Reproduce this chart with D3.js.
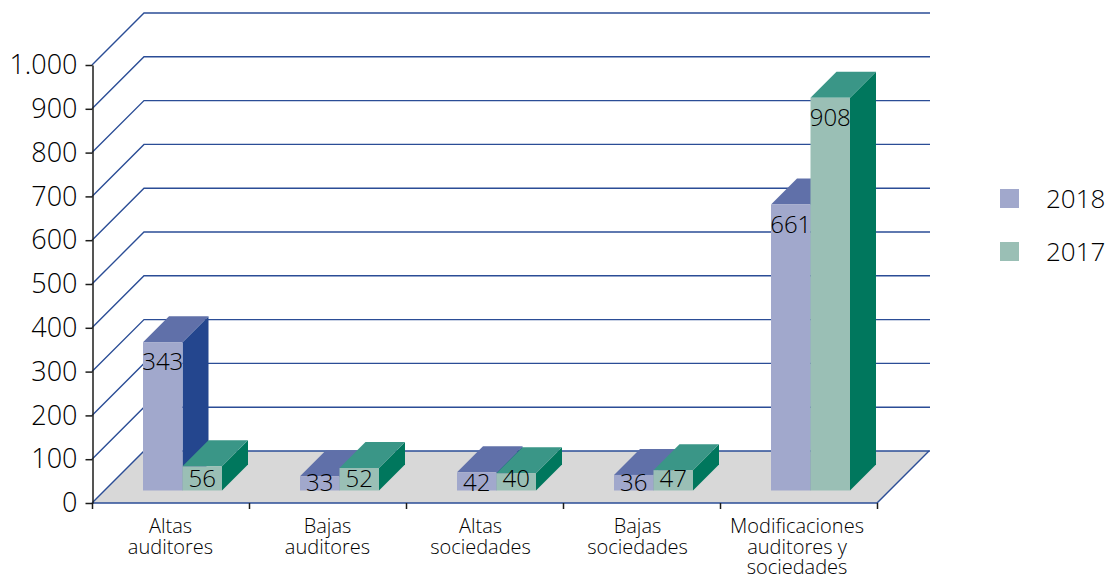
<!DOCTYPE html>
<html>
<head>
<meta charset="utf-8">
<script src="https://cdnjs.cloudflare.com/ajax/libs/d3/7.8.5/d3.min.js"></script>
<style>
  html, body { margin: 0; padding: 0; background: #fff; }
  svg { display: block; }
  text { font-family: "Open Sans", sans-serif; font-weight: 300; fill: #000; }
</style>
</head>
<body>
<svg id="chart" width="1110" height="577"></svg>
<script>
var categories = ["Altas auditores", "Bajas auditores", "Altas sociedades", "Bajas sociedades", "Modificaciones auditores y sociedades"];
var categoryLines = [["Altas", "auditores"], ["Bajas", "auditores"], ["Altas", "sociedades"], ["Bajas", "sociedades"], ["Modificaciones", "auditores y", "sociedades"]];
var seriesNames = ["2018", "2017"];
var values2018 = [343, 33, 42, 36, 661];
var values2017 = [56, 52, 40, 47, 908];
var yTicks = [0, 100, 200, 300, 400, 500, 600, 700, 800, 900, 1000];

var seriesValues = { 2018: values2018, 2017: values2017 };
var colors = {
  2018: { front: "#a1a8cc", top: "#6070a9", side: "#24468e" },
  2017: { front: "#9abfb5", top: "#3a9687", side: "#00775d" },
};
var lineColor = "#2b4d96";

var svg = d3.select("#chart");

// the axis sits on the front edge of the floor, the bars stand a bit further back
var yScale = d3.scaleLinear().domain([0, 1000]).range([503, 65]);
var yBar = d3.scaleLinear().domain([0, 1000]).range([490.5, 58]);
var xScale = d3.scaleBand().domain(categories).range([92, 877]);
var xInner = d3.scaleBand().domain(seriesNames).range([51, 130]);

var wallDepth = 52;
var barDepth = 26;
var formatTick = function (d) {
  return d3.format(",")(d).replace(",", ".");
};

// floor
svg
  .append("polygon")
  .attr("points", [
    [92, yScale(0)],
    [877, yScale(0)],
    [877 + wallDepth, yScale(0) - wallDepth],
    [92 + wallDepth, yScale(0) - wallDepth],
  ].join(" "))
  .attr("fill", "#d8d8d8");

svg
  .append("path")
  .attr("d", "M92," + yScale(0) + "L877," + yScale(0) + "L" + (877 + wallDepth) + "," + (yScale(0) - wallDepth))
  .attr("fill", "none")
  .attr("stroke", lineColor)
  .attr("stroke-width", 1.4);

// grid lines run up the side wall and along the back wall
svg
  .selectAll(".grid")
  .data(yTicks)
  .enter()
  .append("path")
  .attr("class", "grid")
  .attr("fill", "none")
  .attr("stroke", lineColor)
  .attr("stroke-width", 1.4)
  .attr("d", function (d) {
    var y = yScale(d);
    return "M92," + y + "L" + (92 + wallDepth) + "," + (y - wallDepth) + "L" + (878 + wallDepth) + "," + (y - wallDepth);
  });

// bars
seriesNames.forEach(function (name) {
  var groups = svg
    .selectAll(".bar-" + name)
    .data(seriesValues[name])
    .enter()
    .append("g")
    .attr("class", "bar-" + name);

  var left = function (d, i) {
    return xScale(categories[i]) + xInner(name);
  };
  var w = xInner.bandwidth();

  groups
    .append("polygon")
    .attr("fill", colors[name].side)
    .attr("points", function (d, i) {
      var x = left(d, i) + w;
      return [[x, yBar(d)], [x + barDepth, yBar(d) - barDepth], [x + barDepth, yBar(0) - barDepth], [x, yBar(0)]].join(" ");
    });

  groups
    .append("polygon")
    .attr("fill", colors[name].top)
    .attr("points", function (d, i) {
      var x = left(d, i);
      return [[x, yBar(d)], [x + barDepth, yBar(d) - barDepth], [x + w + barDepth, yBar(d) - barDepth], [x + w, yBar(d)]].join(" ");
    });

  groups
    .append("rect")
    .attr("fill", colors[name].front)
    .attr("x", left)
    .attr("y", function (d) {
      return yBar(d);
    })
    .attr("width", w)
    .attr("height", function (d) {
      return yBar(0) - yBar(d);
    });
});

// value labels go on top of everything, small bars push them to the floor
seriesNames.forEach(function (name) {
  svg
    .selectAll(".label-" + name)
    .data(seriesValues[name])
    .enter()
    .append("text")
    .attr("class", "label-" + name)
    .attr("text-anchor", "middle")
    .style("font-size", "24px")
    .attr("x", function (d, i) {
      return xScale(categories[i]) + xInner(name) + xInner.bandwidth() / 2;
    })
    .attr("y", function (d) {
      return Math.min(yBar(d) + 28, name === "2018" ? 491 : 487);
    })
    .text(function (d) {
      return d;
    });
});

// y axis
var yAxis = d3.axisLeft(yScale).tickValues(yTicks).tickFormat(formatTick).tickSize(7).tickPadding(8).tickSizeOuter(0);
var yGroup = svg.append("g").attr("transform", "translate(92.5,0)").call(yAxis);
yGroup.selectAll("text").style("font-size", "27px").attr("font-family", null);
yGroup.selectAll("line").attr("stroke", "#1d1d1b").attr("stroke-width", 1.5);
yGroup.select(".domain").attr("stroke", "#1d1d1b").attr("stroke-width", 1.5);

// x ticks at the band edges
var xEdges = categories.map(function (c) {
  return xScale(c);
}).concat([xScale.range()[1]]);
svg
  .selectAll(".xtick")
  .data(xEdges)
  .enter()
  .append("line")
  .attr("class", "xtick")
  .attr("x1", function (d) {
    return d + 0.5;
  })
  .attr("x2", function (d) {
    return d + 0.5;
  })
  .attr("y1", yScale(0))
  .attr("y2", yScale(0) + 6)
  .attr("stroke", "#1d1d1b")
  .attr("stroke-width", 1.5);

// category labels, the sociedades ones sit slightly left of the band centre
var catText = svg
  .selectAll(".cat")
  .data(categoryLines)
  .enter()
  .append("text")
  .attr("class", "cat")
  .attr("text-anchor", "middle")
  .style("font-size", "20px")
  .attr("transform", function (d, i) {
    var nudge = d[1] === "sociedades" ? -4 : d.length > 2 ? -1.5 : 0;
    return "translate(" + (xScale(categories[i]) + xScale.bandwidth() / 2 + nudge) + ",533)";
  });
catText
  .selectAll("tspan")
  .data(function (d) {
    return d;
  })
  .enter()
  .append("tspan")
  .attr("x", 0)
  .attr("y", function (d, i) {
    return i * 20.5;
  })
  .text(function (d) {
    return d;
  });

// legend
var legendY = d3.scalePoint().domain(seriesNames).range([198.5, 251.5]);
var legend = svg
  .selectAll(".legend")
  .data(seriesNames)
  .enter()
  .append("g")
  .attr("class", "legend")
  .attr("transform", function (d) {
    return "translate(1000," + legendY(d) + ")";
  });
legend
  .append("rect")
  .attr("x", 0)
  .attr("y", -9.5)
  .attr("width", 19)
  .attr("height", 19)
  .attr("fill", function (d) {
    return colors[d].front;
  });
legend
  .append("text")
  .attr("x", 46)
  .attr("y", 9)
  .style("font-size", "26px")
  .text(function (d) {
    return d;
  });
</script>
</body>
</html>
